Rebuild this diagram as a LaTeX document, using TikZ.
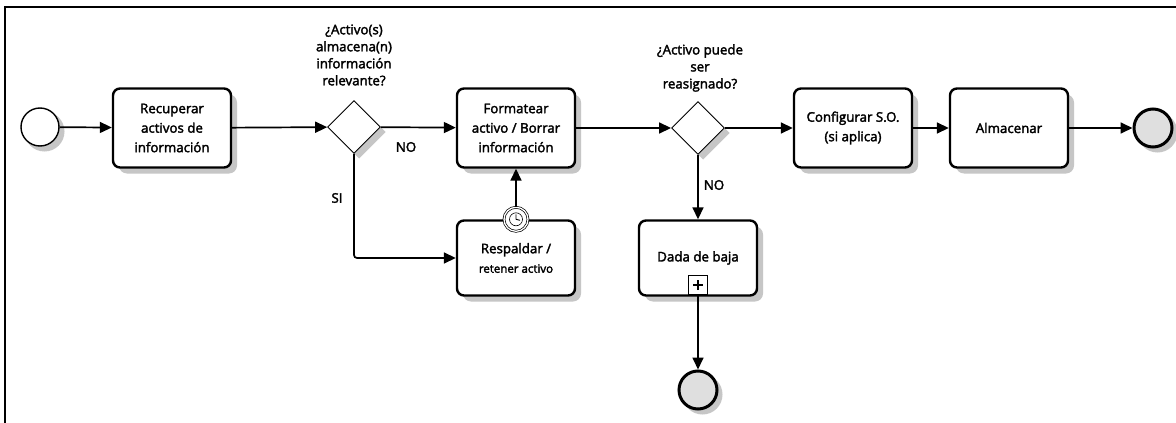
\documentclass[tikz,border=0pt]{standalone}
\usepackage{fontspec}
\setmainfont{Open Sans}[FakeBold=2.4]
\usetikzlibrary{arrows.meta,shapes.geometric}

% soft grey shadow drawn ahead of each shape, offset to the lower right
\newcommand{\boxshade}[3]{%
  \fill[gray!45, rounded corners=8pt] (#1-59+6,#2-#3/2+6) rectangle (#1+59+6,#2+#3/2+6);}
\newcommand{\diamshade}[2]{%
  \fill[gray!45] (#1+5,#2-26.5+5) -- (#1+26.5+5,#2+5) -- (#1+5,#2+26.5+5) -- (#1-26.5+5,#2+5) -- cycle;}
\newcommand{\discshade}[2]{%
  \fill[gray!45] (#1+4.5,#2+4.5) circle (20pt);}

\begin{document}
\begin{tikzpicture}[x=1pt,y=-1pt,
  txt/.style={font=\fontsize{13.3}{19.5}\selectfont},
  lbl/.style={font=\fontsize{13.3}{17}\selectfont, align=center},
  task/.style={txt, draw, line width=2.4pt, rounded corners=7pt, minimum width=118pt,
               minimum height=79pt, align=center, fill=white},
  gateway/.style={diamond, draw, line width=0.9pt, minimum width=53pt, minimum height=53pt,
               inner sep=0pt, fill=white},
  startev/.style={circle, draw, line width=1.4pt, minimum size=38pt, inner sep=0pt, fill=white},
  endev/.style={circle, draw, line width=3pt, minimum size=38pt, inner sep=0pt, fill=gray!25},
  flow/.style={draw, line width=1.7pt, -{Triangle[length=12pt,width=11pt]}},
]
% canvas and frame
\fill[white] (0,0) rectangle (1176,423);
\useasboundingbox (0,0) rectangle (1176,423);
\draw[line width=1.5pt] (5,423) -- (5,7) -- (1176,7);

% shadows
\boxshade{172}{128}{79}
\boxshade{516}{128}{79}
\boxshade{516}{258}{75}
\boxshade{698}{258}{75}
\boxshade{853}{128}{79}
\boxshade{1009}{128}{79}
\diamshade{354}{127}
\diamshade{698}{128}
\discshade{40}{127}
\discshade{1153}{128}
\discshade{698}{390}

% events
\node[startev] (start) at (40,127) {};
\node[endev] (endA) at (1153,128) {};
\node[endev] (endB) at (698,390) {};

% tasks
\node[task] (recup) at (172,128) {Recuperar\\activos de\\información};
\node[task] (format) at (516,128) {Formatear\\activo / Borrar\\información};
\node[task, minimum height=75pt] (resp) at (516,258) {Respaldar /\\\fontsize{11.5}{14}\selectfont retener activo};
\node[task, minimum height=75pt] (baja) at (698,258) {\raisebox{2pt}{Dada de baja}};
\node[task] (config) at (853,128) {Configurar S.O.\\(si aplica)};
\node[task] (almac) at (1009,128) {Almacenar};

% gateways and their questions
\node[gateway] (g1) at (354,127) {};
\node[gateway] (g2) at (698,128) {};
\node[lbl] (q1) at (354,55) {¿Activo(s)\\almacena(n)\\información\\relevante?};
\node[lbl] (q2) at (700,68) {¿Activo puede\\ser\\reasignado?};

% timer event attached to the backup task
\node[circle, draw, double, double distance=1.3pt, line width=0.7pt, minimum size=24pt,
      inner sep=0pt, fill=white] (timer) at (resp.north) {};
\draw[line width=0.6pt] (timer.center) circle (6.5pt);
\draw[line width=0.9pt] (timer.center) -- ++(0,-5) (timer.center) -- ++(4,1);

% collapsed sub-process marker
\node[draw, line width=1.8pt, minimum width=19pt, minimum height=19pt, inner sep=0pt,
      fill=white] (sub) at (698,285) {};
\draw[line width=2.4pt] ([xshift=-5pt]sub.center) -- ([xshift=5pt]sub.center)
                        ([yshift=-5pt]sub.center) -- ([yshift=5pt]sub.center);

% sequence flows
\draw[flow] (start) -- (recup);
\draw[flow] (recup) -- (g1);
\draw[flow] (g1) -- (format);
\draw[flow, rounded corners=3pt] (g1.south) |- (resp.west);
\draw[flow] (timer.north) -- (format.south);
\draw[flow] (format) -- (g2);
\draw[flow] (g2) -- (config);
\draw[flow] (config) -- (almac);
\draw[flow] (almac) -- (endA);
\draw[flow] (g2.south) -- (baja.north);
\draw[flow] (sub.south) -- (endB);

% flow labels
\node[txt] (no1) at (406,147) {NO};
\node[txt] (si) at (337,198) {SI};
\node[txt] (no2) at (714,185) {NO};
\end{tikzpicture}
\end{document}
